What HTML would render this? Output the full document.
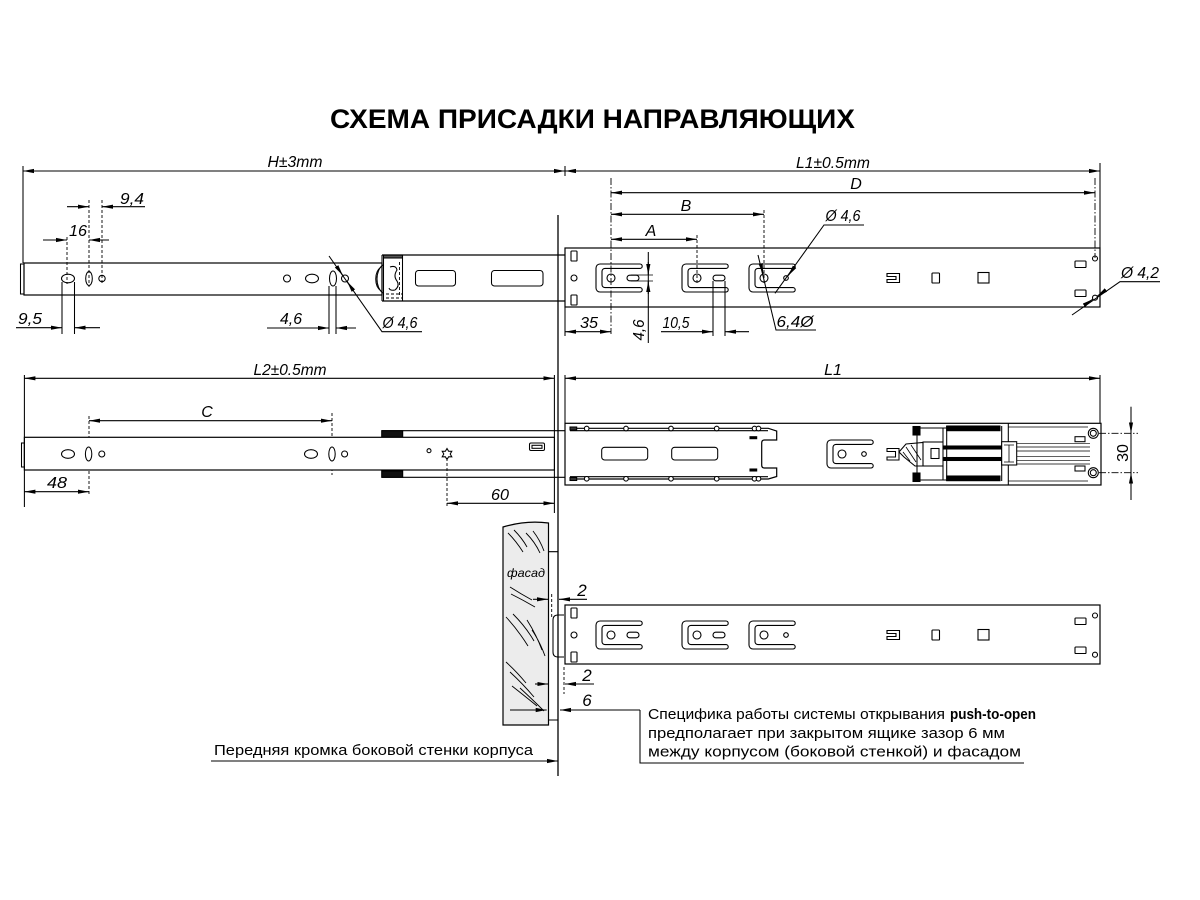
<!DOCTYPE html>
<html><head><meta charset="utf-8"><style>
html,body{margin:0;padding:0;background:#fff}
svg{display:block}
.d{font:italic 16px "Liberation Sans",sans-serif;fill:#000;stroke:none}
.t{font:15px "Liberation Sans","Noto Sans CJK SC",sans-serif;fill:#000;stroke:none}
.ds{stroke-dasharray:3 2;stroke-width:.9}
.dd{stroke-dasharray:7 2 1.5 2;stroke-width:.9}
.a1{marker-end:url(#ar)}
.a2{marker-start:url(#ar);marker-end:url(#ar)}
</style></head><body>
<svg width="1200" height="900" viewBox="0 0 1200 900" xmlns="http://www.w3.org/2000/svg">
<defs>
<marker id="ar" viewBox="0 0 11 5" refX="11" refY="2.5" markerWidth="11" markerHeight="5" markerUnits="userSpaceOnUse" orient="auto-start-reverse"><path d="M0,0.4 L11,2.5 L0,4.6 Z" fill="#000" stroke="none"/></marker>
<g id="b1" fill="none" stroke="#000" stroke-width="1.1">
<path d="M44,0 H4 A4,4 0 0 0 0,4 V24 A4,4 0 0 0 4,28 H44 A2.2,2.2 0 0 0 44,23.6 H9 A3,3 0 0 1 6,20.6 V7.4 A3,3 0 0 1 9,4.4 H44 A2.2,2.2 0 0 0 44,0 Z"/>
<circle cx="15" cy="14" r="4"/>
<rect x="31" y="11.2" width="12" height="5.6" rx="2.8"/>
</g>
<g id="b3" fill="none" stroke="#000" stroke-width="1.1">
<path d="M44,0 H4 A4,4 0 0 0 0,4 V24 A4,4 0 0 0 4,28 H44 A2.2,2.2 0 0 0 44,23.6 H9 A3,3 0 0 1 6,20.6 V7.4 A3,3 0 0 1 9,4.4 H44 A2.2,2.2 0 0 0 44,0 Z"/>
<circle cx="15" cy="14" r="4"/>
<circle cx="37" cy="14" r="2.3"/>
</g>
<g id="rail" fill="none" stroke="#000" stroke-width="1.1">
<rect x="565" y="248" width="535" height="59" stroke-width="1.2"/>
<rect x="571" y="251" width="6" height="10" rx="0.8"/>
<rect x="571" y="295" width="6" height="10" rx="0.8"/>
<circle cx="574" cy="278" r="3"/>
<use href="#b1" x="596" y="264"/>
<use href="#b1" x="682" y="264"/>
<use href="#b3" x="749" y="264"/>
<path d="M887,273.5 H899.5 V282.5 H887 V279.5 H896 V276.5 H887 Z"/>
<rect x="932" y="273" width="7.5" height="10" rx="0.8"/>
<rect x="978" y="272.5" width="11" height="10.5"/>
<rect x="1075" y="261" width="11" height="6.5" rx="0.8"/>
<rect x="1075" y="290" width="11" height="6.5" rx="0.8"/>
<circle cx="1095" cy="258.5" r="2.5"/>
<circle cx="1095" cy="297.7" r="2.5"/>
</g>
</defs>

<rect width="1200" height="900" fill="#fff"/>

<text x="330" y="128" textLength="525" lengthAdjust="spacingAndGlyphs" style="font:bold 27px 'Liberation Sans',sans-serif;fill:#000">СХЕМА ПРИСАДКИ НАПРАВЛЯЮЩИХ</text>

<g fill="none" stroke="#000" stroke-width="1.05">

<!-- ========== TOP LEFT ========== -->
<line class="a2" x1="23" y1="171" x2="565" y2="171"/>
<line x1="23" y1="166" x2="23" y2="263"/>
<line x1="565" y1="166" x2="565" y2="176"/>

<rect x="24" y="263" width="358" height="32" stroke-width="1.2"/>
<rect x="20.5" y="264" width="3.5" height="30"/>
<ellipse cx="68" cy="278.5" rx="6.5" ry="4.3"/>
<ellipse cx="89" cy="278.5" rx="3.3" ry="7"/>
<circle cx="102" cy="278.5" r="3.2"/>
<circle cx="287" cy="278.5" r="3.5"/>
<ellipse cx="312" cy="278.5" rx="6.5" ry="4.3"/>
<ellipse cx="333" cy="278.5" rx="3.5" ry="7.5"/>
<circle cx="345" cy="278.5" r="3.5"/>

<!-- bracket joint -->
<path d="M383,265 C375,270 375,288 383,293"/>
<path d="M381,267 C374,272 374,286 381,291"/>
<line x1="382" y1="255" x2="382" y2="301"/>
<line x1="383.5" y1="255" x2="383.5" y2="301"/>
<rect x="383.5" y="255" width="19" height="3" fill="#555"/>
<line x1="402.5" y1="255" x2="402.5" y2="301"/>
<path d="M390,267 Q396,265 397,270 Q393,276 397,281 Q400,286 395,290 Q390,291 389,288"/>
<path class="ds" d="M399.5,262 V296 M386,294 H402 M386,298 H402"/>
<!-- inner member -->
<line x1="382" y1="255" x2="565" y2="255" stroke-width="1.2"/>
<line x1="382" y1="301" x2="565" y2="301" stroke-width="1.2"/>
<rect x="415.5" y="270.5" width="40" height="15.5" rx="3"/>
<rect x="491.5" y="270.5" width="51.5" height="15.5" rx="3"/>

<!-- dims top-left -->
<line class="ds" x1="89" y1="200" x2="89" y2="287"/>
<line class="ds" x1="102" y1="200" x2="102" y2="283"/>
<line class="ds" x1="67" y1="237" x2="67" y2="284"/>
<line class="a1" x1="67" y1="206.7" x2="89" y2="206.7"/>
<line class="a1" x1="145" y1="206.7" x2="102" y2="206.7"/>
<line class="a1" x1="43" y1="240" x2="67" y2="240"/>
<line class="a1" x1="109" y1="240" x2="89" y2="240"/>

<line x1="62" y1="282" x2="62" y2="334"/>
<line x1="74.5" y1="282" x2="74.5" y2="334"/>
<line class="a1" x1="16" y1="327.7" x2="62" y2="327.7"/>
<line class="a1" x1="100" y1="327.7" x2="74.5" y2="327.7"/>

<line x1="329" y1="286" x2="329" y2="334"/>
<line x1="336" y1="286" x2="336" y2="334"/>
<line class="a1" x1="267" y1="328" x2="329" y2="328"/>
<line class="a1" x1="356" y1="328" x2="336" y2="328"/>

<path d="M329,256 L382,331.7 H422"/>
<line class="a1" x1="337" y1="267" x2="342.8" y2="275.4"/>
<line class="a1" x1="353" y1="290" x2="347.2" y2="281.6"/>

<!-- ========== TOP RIGHT ========== -->
<line class="a2" x1="565" y1="171" x2="1100" y2="171"/>
<line x1="1100" y1="163" x2="1100" y2="248"/>
<line class="a2" x1="611" y1="192.7" x2="1095" y2="192.7"/>
<line class="a2" x1="611" y1="214.3" x2="764" y2="214.3"/>
<line class="a2" x1="611" y1="239.3" x2="697" y2="239.3"/>
<line class="dd" x1="611" y1="178" x2="611" y2="334"/>
<line class="dd" x1="1095" y1="178" x2="1095" y2="258"/>
<line class="ds" x1="764" y1="210" x2="764" y2="283"/>
<line class="ds" x1="697" y1="235" x2="697" y2="283"/>

<use href="#rail"/>

<line x1="565" y1="307" x2="565" y2="336"/>
<line class="a2" x1="565" y1="331.7" x2="611" y2="331.7"/>

<line x1="648.3" y1="252" x2="648.3" y2="343"/>
<line class="a1" x1="648.3" y1="262" x2="648.3" y2="275"/>
<line class="a1" x1="648.3" y1="294" x2="648.3" y2="281"/>
<path d="M631,275 H653 M631,281 H653" stroke-width=".8"/>

<line x1="713" y1="281" x2="713" y2="336"/>
<line x1="725" y1="281" x2="725" y2="336"/>
<line class="a1" x1="661" y1="331.7" x2="713" y2="331.7"/>
<line class="a1" x1="749" y1="331.7" x2="725" y2="331.7"/>

<path d="M758,255 L776,330 H816"/>
<line class="a1" x1="760.6" y1="263.5" x2="763.2" y2="274.2"/>

<path d="M775,293.3 L824,225 H864"/>
<line class="a1" x1="794.6" y1="266.8" x2="788.2" y2="275.7"/>

<path d="M1072,315 L1120,281.7 H1160"/>
<line class="a1" x1="1106" y1="290" x2="1097" y2="296.3"/>
<line class="a1" x1="1084" y1="305.3" x2="1093" y2="299.1"/>

<!-- ========== MIDDLE LEFT ========== -->
<line class="a2" x1="24.4" y1="378.3" x2="554.4" y2="378.3"/>
<line x1="24.4" y1="375" x2="24.4" y2="507"/>
<line x1="554.4" y1="375" x2="554.4" y2="513"/>
<line class="a2" x1="89" y1="420.7" x2="332" y2="420.7"/>
<line class="ds" x1="89" y1="416" x2="89" y2="494"/>
<line class="ds" x1="332" y1="413" x2="332" y2="475"/>

<line x1="381.7" y1="430.7" x2="565" y2="430.7" stroke-width="1.2"/>
<line x1="381.7" y1="477.3" x2="565" y2="477.3" stroke-width="1.2"/>
<rect x="381.7" y="430.7" width="21" height="6.6" fill="#111"/>
<rect x="381.7" y="471" width="21" height="6.3" fill="#111"/>

<rect x="24.4" y="437.3" width="530" height="32.7" fill="#fff" stroke-width="1.2"/>
<rect x="21.5" y="443" width="2.9" height="24"/>
<ellipse cx="68" cy="454" rx="6.5" ry="4.3"/>
<ellipse cx="88.6" cy="454" rx="3.2" ry="7"/>
<circle cx="101.8" cy="454" r="3"/>
<ellipse cx="311" cy="454" rx="6.5" ry="4.3"/>
<ellipse cx="332" cy="454" rx="3.2" ry="7"/>
<circle cx="344.6" cy="454" r="3"/>
<circle cx="429" cy="450.7" r="2"/>
<polygon points="447,448.5 448.6,451.2 451.8,451.3 450.2,454 451.8,456.8 448.6,456.8 447,459.5 445.4,456.8 442.2,456.8 443.8,454 442.2,451.3 445.4,451.2"/>
<rect x="529.5" y="443" width="15" height="7.5" rx="1.5"/>
<rect x="532" y="445.3" width="10" height="3"/>

<line class="a2" x1="24.4" y1="491.7" x2="89" y2="491.7"/>
<line class="ds" x1="447" y1="458" x2="447" y2="507"/>
<line class="a2" x1="447" y1="503.3" x2="554.4" y2="503.3"/>

<!-- ========== MIDDLE RIGHT ========== -->
<line class="a2" x1="565" y1="378.3" x2="1100" y2="378.3"/>
<line x1="565" y1="375" x2="565" y2="423"/>
<line x1="1100" y1="375" x2="1100" y2="423"/>
<rect x="565" y="423.3" width="536" height="61.7" stroke-width="1.2"/>

<path d="M570,428.3 H768.3 L776.7,431 V440 H764.3 Q761.7,440 761.7,443 V465 Q761.7,468 764.3,468 H776.7 V476.5 L768.3,479 H570" stroke-width="1.2"/>
<line x1="570" y1="430.7" x2="768" y2="430.7"/>
<line x1="570" y1="476.7" x2="768" y2="476.7"/>
<rect x="570" y="427" width="6.7" height="3" fill="#333"/>
<rect x="570" y="477.5" width="6.7" height="3" fill="#333"/>
<g fill="#fff">
<circle cx="586.7" cy="428.5" r="2.3"/><circle cx="626" cy="428.5" r="2.3"/><circle cx="671" cy="428.5" r="2.3"/><circle cx="716.7" cy="428.5" r="2.3"/><circle cx="754.5" cy="428.5" r="2.3"/><circle cx="758.5" cy="428.5" r="2.3"/>
<circle cx="586.7" cy="478.8" r="2.3"/><circle cx="626" cy="478.8" r="2.3"/><circle cx="671" cy="478.8" r="2.3"/><circle cx="716.7" cy="478.8" r="2.3"/><circle cx="754.5" cy="478.8" r="2.3"/><circle cx="758.5" cy="478.8" r="2.3"/>
</g>
<rect x="750" y="436.7" width="6.7" height="2" fill="#000"/>
<rect x="750" y="469" width="6.7" height="2" fill="#000"/>
<rect x="601.7" y="447.3" width="46" height="12.7" rx="3"/>
<rect x="671.7" y="447.3" width="46" height="12.7" rx="3"/>

<use href="#b3" x="827" y="440"/>

<!-- mechanism -->
<path d="M887,448.5 H899 V460 H887 V457 H895.5 V451.5 H887 Z"/>
<path d="M899,452 L906,444 L923,442.5 V466 H915 L904,457 Z"/>
<path d="M906,447 L916,462 M911,445 L921,460 M903,452 L910,461" stroke-width=".8"/>
<rect x="923" y="442" width="20" height="24"/>
<rect x="931" y="448.5" width="8" height="10"/>
<rect x="913" y="426.5" width="7" height="8.5" fill="#000"/>
<rect x="913" y="473" width="7" height="8.5" fill="#000"/>
<path d="M920,428 H946.7 M920,480 H946.7 M917,435 V473 M943,428 V442 M943,466 V480"/>
<rect x="946.7" y="426" width="53.3" height="4.7" fill="#000"/>
<rect x="946.7" y="476" width="53.3" height="4.7" fill="#000"/>
<rect x="943" y="446" width="58" height="3" fill="#000"/>
<rect x="943" y="457.5" width="58" height="3" fill="#000"/>
<path d="M946.7,426 V481 M1001.7,426 V481 M1008.3,423.3 V485"/>
<rect x="1001.7" y="441.7" width="15" height="23.3" fill="#fff"/>
<path d="M1004,445 H1014 M1004,462 H1014 M1009,445 V462" stroke-width=".8"/>
<path d="M1016.7,443.3 H1090 M1016.7,447 H1090 M1016.7,451 H1090 M1016.7,456.7 H1090 M1016.7,460.3 H1090 M1016.7,464 H1090" stroke-width=".7"/>
<path d="M1008.3,427 H1088 M1008.3,481 H1088" stroke-width=".7"/>
<rect x="1075" y="436.7" width="10" height="5"/>
<rect x="1075" y="466" width="10" height="5"/>
<circle cx="1093.3" cy="433.3" r="5"/><circle cx="1093.3" cy="433.3" r="3"/>
<circle cx="1093.3" cy="472.7" r="5"/><circle cx="1093.3" cy="472.7" r="3"/>

<line class="dd" x1="1099" y1="433.3" x2="1138" y2="433.3"/>
<line class="dd" x1="1099" y1="472.7" x2="1138" y2="472.7"/>
<line x1="1131" y1="406.7" x2="1131" y2="500"/>
<line class="a1" x1="1131" y1="421" x2="1131" y2="433.3"/>
<line class="a1" x1="1131" y1="485" x2="1131" y2="472.7"/>

<!-- ========== BOTTOM ========== -->
<path d="M503,527 Q526,520 548.5,523 V725 H503 Z" fill="#ececec" stroke-width="1.2"/>
<g stroke-width=".9">
<path d="M508,533 Q516,541 523,552 M514,530 Q522,538 527,547 M526,533 Q535,542 540,553 M533,531 Q540,540 544,551"/>
<path d="M510,587 Q521,594 532,600 M511,594 Q523,600 535,607"/>
<path d="M506,617 Q518,630 528,646 M513,614 Q526,627 534,641 M527,620 Q536,634 542,650 M532,630 Q540,642 545,656"/>
<path d="M506,662 Q517,672 526,683 M510,672 Q523,684 534,697 M512,686 Q526,697 537,706 M520,688 Q533,700 544,711"/>
</g>
<path d="M548.5,551.7 H558 M548.5,720 H558"/>

<use href="#rail" y="357"/>
<path d="M564,615 H558 Q553,615 553,620 V652 Q553,657 558,657 H564"/>
<line class="ds" x1="551.7" y1="594" x2="551.7" y2="617"/>
<line class="ds" x1="564" y1="667" x2="564" y2="694"/>

<line class="a1" x1="533" y1="599.3" x2="548" y2="599.3"/>
<line class="a1" x1="587" y1="599.3" x2="559" y2="599.3"/>
<line class="a1" x1="535" y1="684" x2="548.3" y2="684"/>
<line class="a1" x1="594" y1="684" x2="565" y2="684"/>
<line class="a1" x1="510" y1="710" x2="546.7" y2="710"/>
<line class="a1" x1="640" y1="710" x2="560" y2="710"/>
<path d="M640,710 V763 H1024"/>

<line class="a1" x1="211" y1="761" x2="558" y2="761"/>

<!-- separator -->
<line x1="558" y1="215" x2="558" y2="776" stroke-width="1.3"/>
</g>

<!-- ===== labels ===== -->
<text class="d" x="295" y="167" text-anchor="middle" textLength="55" lengthAdjust="spacingAndGlyphs">H±3mm</text>
<text class="d" x="132" y="204" text-anchor="middle" textLength="24" lengthAdjust="spacingAndGlyphs">9,4</text>
<text class="d" x="78" y="236" text-anchor="middle" textLength="18" lengthAdjust="spacingAndGlyphs">16</text>
<text class="d" x="30" y="324" text-anchor="middle" textLength="24" lengthAdjust="spacingAndGlyphs">9,5</text>
<text class="d" x="291" y="324" text-anchor="middle" textLength="22" lengthAdjust="spacingAndGlyphs">4,6</text>
<text class="d" x="400" y="328" text-anchor="middle" textLength="35" lengthAdjust="spacingAndGlyphs">Ø 4,6</text>

<text class="d" x="833" y="168" text-anchor="middle" textLength="74" lengthAdjust="spacingAndGlyphs">L1±0.5mm</text>
<text class="d" x="856" y="189" text-anchor="middle">D</text>
<text class="d" x="686" y="211" text-anchor="middle">B</text>
<text class="d" x="651" y="236" text-anchor="middle">A</text>
<text class="d" x="843" y="221" text-anchor="middle" textLength="35" lengthAdjust="spacingAndGlyphs">Ø 4,6</text>
<text class="d" x="1140" y="278" text-anchor="middle" textLength="38" lengthAdjust="spacingAndGlyphs">Ø 4,2</text>
<text class="d" x="589" y="328" text-anchor="middle" textLength="18" lengthAdjust="spacingAndGlyphs">35</text>
<text class="d" transform="translate(644,330) rotate(-90)" text-anchor="middle" textLength="21" lengthAdjust="spacingAndGlyphs">4,6</text>
<text class="d" x="676" y="328" text-anchor="middle" textLength="27" lengthAdjust="spacingAndGlyphs">10,5</text>
<text class="d" x="795" y="327" text-anchor="middle" textLength="37" lengthAdjust="spacingAndGlyphs">6,4Ø</text>

<text class="d" x="290" y="375" text-anchor="middle" textLength="73" lengthAdjust="spacingAndGlyphs">L2±0.5mm</text>
<text class="d" x="207" y="417" text-anchor="middle">C</text>
<text class="d" x="57" y="488" text-anchor="middle" textLength="20" lengthAdjust="spacingAndGlyphs">48</text>
<text class="d" x="500" y="500" text-anchor="middle" textLength="18" lengthAdjust="spacingAndGlyphs">60</text>

<text class="d" x="833" y="375" text-anchor="middle">L1</text>
<text class="t" transform="translate(1128,453) rotate(-90)" text-anchor="middle" style="font-size:16px">30</text>

<text class="d" x="526" y="577" text-anchor="middle" textLength="38" lengthAdjust="spacingAndGlyphs" style="font-size:12px">фасад</text>
<text class="d" x="582" y="596" text-anchor="middle" style="font-size:17px">2</text>
<text class="d" x="587" y="681" text-anchor="middle" style="font-size:17px">2</text>
<text class="d" x="587" y="706" text-anchor="middle" style="font-size:17px">6</text>

<text class="t" x="648" y="719" textLength="297" lengthAdjust="spacingAndGlyphs">Специфика работы системы открывания</text>
<text class="t" x="950" y="719" textLength="86" lengthAdjust="spacingAndGlyphs" style="font-weight:bold">push-to-open</text>
<text class="t" x="648" y="738" textLength="357" lengthAdjust="spacingAndGlyphs">предполагает при закрытом ящике зазор 6 мм</text>
<text class="t" x="648" y="756.5" textLength="373" lengthAdjust="spacingAndGlyphs">между корпусом (боковой стенкой) и фасадом</text>
<text class="t" x="214" y="755" textLength="319" lengthAdjust="spacingAndGlyphs">Передняя кромка боковой стенки корпуса</text>
</svg>
</body></html>
